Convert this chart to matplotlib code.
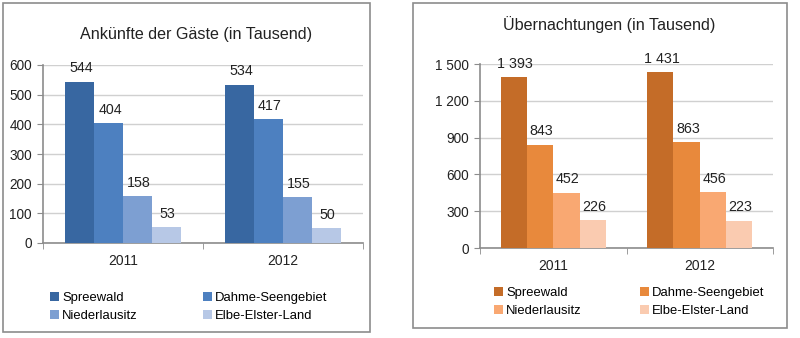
import matplotlib.pyplot as plt
import numpy as np
from matplotlib.patches import Rectangle

plt.rcParams['font.family'] = ['Liberation Sans', 'DejaVu Sans']

# Daten
jahre = ['2011', '2012']
regionen = ['Spreewald', 'Dahme-Seengebiet', 'Niederlausitz', 'Elbe-Elster-Land']
ankuenfte = {
    'Spreewald': [544, 534],
    'Dahme-Seengebiet': [404, 417],
    'Niederlausitz': [158, 155],
    'Elbe-Elster-Land': [53, 50],
}
uebernachtungen = {
    'Spreewald': [1393, 1431],
    'Dahme-Seengebiet': [843, 863],
    'Niederlausitz': [452, 456],
    'Elbe-Elster-Land': [226, 223],
}
farben_blau = ['#3867a1', '#4d80c0', '#7d9fd2', '#b7c8e6']
farben_orange = ['#c46c28', '#e8893c', '#f9a872', '#facbb0']


def fmt(v):
    return f'{v:,}'.replace(',', ' ')


def panel(fig, rect, box, daten, farben, titel, ymax, ystep, title_xy, leg_anchor, colsp):
    # Rahmen um das Diagramm
    fig.patches.append(Rectangle((box[0], box[1]), box[2], box[3], transform=fig.transFigure,
                                 fill=False, edgecolor='#8c8c8c', linewidth=1.2))
    ax = fig.add_axes(rect)
    x = np.arange(len(jahre))
    w = 0.18
    handles = []
    for i, reg in enumerate(regionen):
        pos = x + (i - 1.5) * w
        b = ax.bar(pos, daten[reg], w, color=farben[i], label=reg, zorder=3)
        handles.append(b)
        for p, v in zip(pos, daten[reg]):
            ax.text(p + w * 0.05, v + ymax * 0.035, fmt(v), ha='center', va='bottom',
                    fontsize=10.3, color='#222222', zorder=4)
    ax.set_xlim(-0.5, 1.5)
    ax.set_ylim(0, ymax)
    ticks = np.arange(0, ymax + 1, ystep)
    ax.set_yticks(ticks)
    ax.set_yticklabels([fmt(t) for t in ticks], fontsize=9.8, color='#222222')
    ax.set_xticks(x)
    ax.set_xticklabels(jahre, fontsize=10, color='#222222')
    ax.set_xticks([-0.5, 0.5, 1.5], minor=True)
    ax.tick_params(axis='x', which='major', length=0, pad=8)
    ax.tick_params(axis='x', which='minor', length=4, color='#8c8c8c')
    ax.tick_params(axis='y', length=4, color='#8c8c8c', pad=4)
    ax.grid(axis='y', color='#d0d0d0', linewidth=1, zorder=0)
    for s in ['top', 'right']:
        ax.spines[s].set_visible(False)
    for s in ['left', 'bottom']:
        ax.spines[s].set_color('#8c8c8c')
        ax.spines[s].set_linewidth(1.2)
    fig.text(title_xy[0], title_xy[1], titel, ha='center', va='center',
             fontsize=11.6, color='#222222')
    order = [0, 2, 1, 3]
    fig.legend([handles[k] for k in order], [regionen[k] for k in order],
               loc='upper left', bbox_to_anchor=leg_anchor, ncol=2, frameon=False,
               fontsize=9.4, handlelength=0.7, handleheight=0.7, handletextpad=0.25,
               columnspacing=colsp, labelspacing=0.45, borderpad=0)
    return ax


fig = plt.figure(figsize=(8, 3.38), dpi=100)
W, H = 800, 338
panel(fig, [43 / W, 1 - 243 / H, 320 / W, 178 / H], [3 / W, 6 / H, 367 / W, 329 / H],
      ankuenfte, farben_blau, 'Ankünfte der Gäste (in Tausend)', 600, 100,
      (196 / W, 1 - 35 / H), (43 / W, 1 - 285 / H), 5.0)
panel(fig, [480 / W, 1 - 248 / H, 293 / W, 184 / H], [413 / W, 10 / H, 374 / W, 325 / H],
      uebernachtungen, farben_orange, 'Übernachtungen (in Tausend)', 1500, 300,
      (609 / W, 1 - 25 / H), (487 / W, 1 - 280 / H), 4.45)

fig.savefig('out.png', dpi=100)
